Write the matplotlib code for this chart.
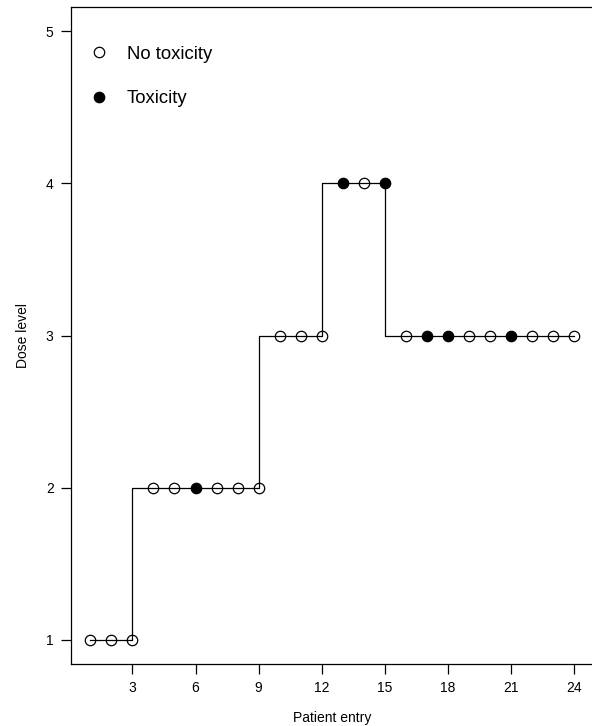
import matplotlib
matplotlib.use("Agg")
import matplotlib.pyplot as plt
import numpy as np
from matplotlib.lines import Line2D

plt.rcParams['font.family'] = ['Liberation Sans', 'DejaVu Sans']

patient = list(range(1, 25))
dose = [1, 1, 1, 2, 2, 2, 2, 2, 2, 3, 3, 3, 4, 4, 4, 3, 3, 3, 3, 3, 3, 3, 3, 3]
toxicity = [0, 0, 0, 0, 0, 1, 0, 0, 0, 0, 0, 0, 1, 0, 1, 0, 1, 1, 0, 0, 1, 0, 0, 0]
xticks = [3, 6, 9, 12, 15, 18, 21, 24]
yticks = [1, 2, 3, 4, 5]
legend_labels = ["No toxicity", "Toxicity"]

fig = plt.figure(figsize=(5.92, 7.26), dpi=100)
W, H = 592, 726
ax = fig.add_axes([71 / W, (H - 664) / H, (593.5 - 71) / W, (664 - 7) / H])

x = np.array(patient)
y = np.array(dose)
t = np.array(toxicity)

ax.plot(x, y, drawstyle='steps-pre', color='black', lw=0.9, zorder=1)
ax.plot(x[t == 0], y[t == 0], 'o', ms=7.5, mfc='none', mec='black', mew=0.9, ls='none', zorder=2)
ax.plot(x[t == 1], y[t == 1], 'o', ms=7.5, mfc='black', mec='black', mew=0.9, ls='none', zorder=2)

ax.set_xlim(0.08, 24.92)
ax.set_ylim(0.84, 5.16)
ax.set_xticks(xticks)
ax.set_yticks(yticks)
ax.tick_params(direction='out', length=7.5, width=0.9, labelsize=10, pad=5)
for s in ax.spines.values():
    s.set_linewidth(0.9)

ax.set_xlabel("Patient entry", fontsize=10, labelpad=11)
ax.set_ylabel("Dose level", fontsize=10, labelpad=11)

handles = [
    Line2D([], [], marker='o', ls='none', ms=7.5, mfc='none', mec='black', mew=0.9),
    Line2D([], [], marker='o', ls='none', ms=7.5, mfc='black', mec='black', mew=0.9),
]
ax.legend(handles, legend_labels, loc='upper left', bbox_to_anchor=(-0.0067, 0.975),
          frameon=False, fontsize=13.3, handlelength=1.0, handletextpad=1.01,
          labelspacing=1.5, borderaxespad=0.8)

fig.savefig("out.png", dpi=100)
